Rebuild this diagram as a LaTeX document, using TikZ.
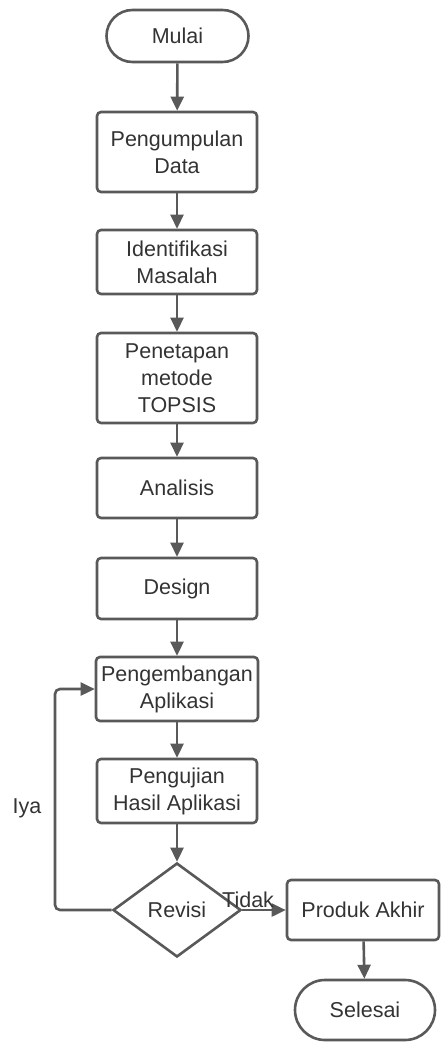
\documentclass[tikz,border=0pt]{standalone}
\usepackage{fontspec}
\setmainfont{Liberation Sans}
\usetikzlibrary{shapes.geometric,arrows.meta}
\definecolor{ln}{HTML}{595959}
\definecolor{tx}{HTML}{333333}
\tikzset{
  base/.style={draw=ln, line width=2.6pt, text=tx, align=center, inner sep=0pt,
    font=\fontsize{21.5}{27}\selectfont},
  procbox/.style={base, rectangle, rounded corners=4pt, minimum width=160pt},
  termbox/.style={base, rectangle, rounded corners=26pt, minimum width=142pt, minimum height=52pt},
  decbox/.style={base, diamond, minimum width=128pt, minimum height=94pt, aspect=1.36},
  conn/.style={draw=ln, line width=2.6pt, -{Triangle[length=14pt,width=13pt]}},
  lbl/.style={text=tx, inner sep=0pt, font=\fontsize{21.5}{27}\selectfont}
}
\begin{document}
\begin{tikzpicture}[x=1pt,y=-1pt]
\useasboundingbox (0,0) rectangle (441,1046);
\node[termbox] (mulai) at (177.5,36) {Mulai};
\node[procbox, minimum height=80pt] (kumpul) at (177,152) {Pengumpulan\\Data};
\node[procbox, minimum height=64pt] (ident) at (177,262) {Identifikasi\\Masalah};
\node[procbox, minimum height=90pt] (tetap) at (177,378) {Penetapan\\metode\\TOPSIS};
\node[procbox, minimum height=60pt] (anal) at (177,488) {Analisis};
\node[procbox, minimum height=61pt] (design) at (177,588.5) {Design};
\node[procbox, minimum height=64pt, minimum width=162pt] (kembang) at (177,689) {Pengembangan\\Aplikasi};
\node[procbox, minimum height=64pt] (uji) at (177,791) {Pengujian\\Hasil Aplikasi};
\node[decbox] (revisi) at (177,910) {Revisi};
\node[procbox, minimum height=60pt, minimum width=152pt] (produk) at (363,910) {Produk Akhir};
\node[termbox, minimum width=140pt, minimum height=60pt, rounded corners=30pt] (selesai) at (365,1010) {Selesai};
\coordinate (lb) at (55,910);
\coordinate (lt) at (55,689);
\draw[conn] (mulai) -- (kumpul);
\draw[conn] (kumpul) -- (ident);
\draw[conn] (ident) -- (tetap);
\draw[conn] (tetap) -- (anal);
\draw[conn] (anal) -- (design);
\draw[conn] (design) -- (kembang);
\draw[conn] (kembang) -- (uji);
\draw[conn] (uji) -- (revisi);
\draw[conn] (revisi.east) -- (produk.west);
\draw[conn] (produk) -- (selesai);
\draw[conn, rounded corners=5pt] (revisi.west) -- (lb) -- (lt) -- (kembang.west);
\node[lbl] (iya) at (27,808) {Iya};
\node[lbl, anchor=base west] (tidak) at (222,907) {Tidak};
\end{tikzpicture}
\end{document}
